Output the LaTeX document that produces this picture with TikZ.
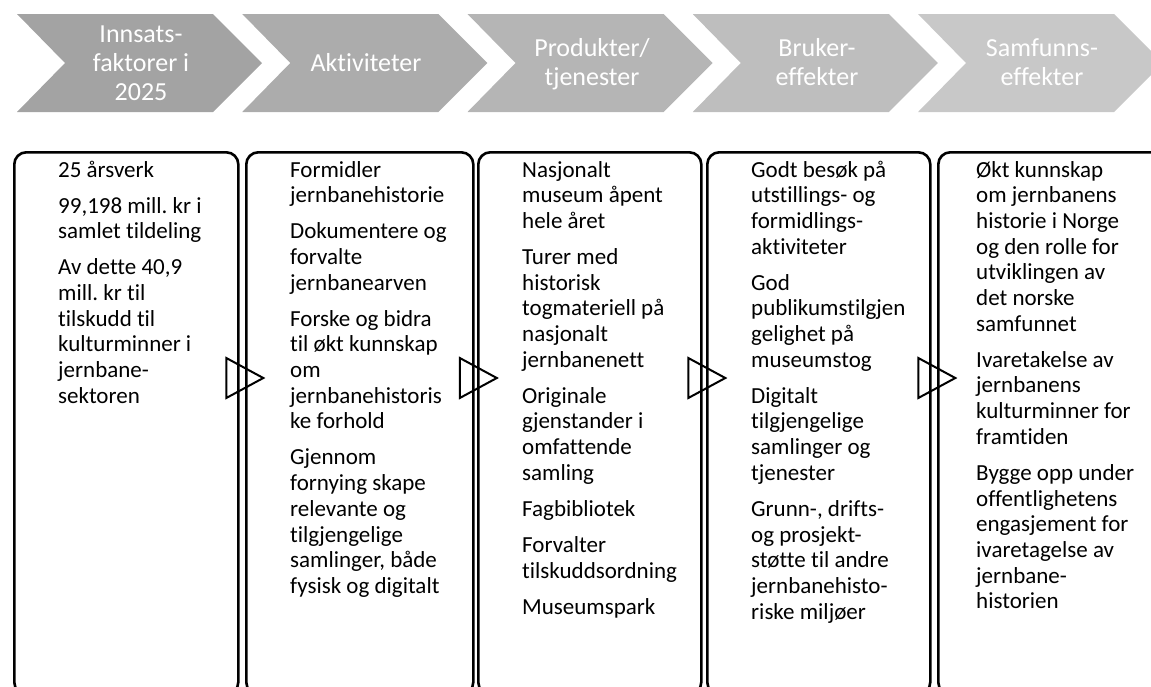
\documentclass[tikz,border=0pt]{standalone}
\usepackage{fontspec}
\setmainfont{Carlito}[Ligatures={NoCommon,NoContextual}]
\frenchspacing
\usetikzlibrary{calc}
\definecolor{chevA}{RGB}{163,163,163}
\definecolor{chevB}{RGB}{172,172,172}
\definecolor{chevC}{RGB}{181,181,181}
\definecolor{chevD}{RGB}{190,190,190}
\definecolor{chevE}{RGB}{200,200,200}
\newcommand\leftlines[1]{\vtop{\baselineskip=25.7pt\lineskiplimit=-100pt\lineskip=0pt\halign{##\hfil\cr #1\crcr}}}
\newcommand\midlines[1]{\vtop{\baselineskip=29pt\lineskiplimit=-100pt\lineskip=0pt\halign{\hfil##\hfil\cr #1\crcr}}}
\newcommand\pgap{\noalign{\vskip10.3pt}}
\begin{document}
\begin{tikzpicture}[x=1pt,y=-1pt,
  chev/.style={fill=#1,draw=none},
  htext/.style={text=white,inner sep=0pt,anchor=base,font=\fontsize{26}{29}\selectfont},
  colbox/.style={draw=black,line width=2.6pt,rounded corners=12pt,inner sep=0pt,anchor=north west,minimum height=542pt},
  btext/.style={inner sep=0pt,anchor=base west,font=\fontsize{23}{25.7}\selectfont},
  tri/.style={draw=black,line width=2pt,line join=miter}]
\useasboundingbox (0,0) rectangle (1151,686);
\clip (0,0) rectangle (1151,686);

% header chevrons
\foreach \L/\c in {17/chevA,242.25/chevB,467.5/chevC,692.75/chevD,918/chevE}{
  \fill[chev=\c] (\L,14) -- ++(196,0) -- ++(49,49) -- ++(-49,49) -- ++(-196,0) -- ++(48,-49) -- cycle;
}
\node[htext] (h1) at (141,42) {\midlines{Innsats-\cr faktorer i\cr 2025}};
\node[htext] (h2) at (366,71) {\midlines{Aktiviteter}};
\node[htext] (h3) at (592,56) {\midlines{Produkter/\cr tjenester}};
\node[htext] (h4) at (817,56) {\midlines{Bruker-\cr effekter}};
\node[htext] (h5) at (1042,56) {\midlines{Samfunns-\cr effekter}};

% column boxes
\node[colbox,minimum width=224pt] (b1) at (13,151) {};
\node[colbox,minimum width=227pt] (b2) at (245,151) {};
\node[colbox,minimum width=223pt] (b3) at (477,151) {};
\node[colbox,minimum width=223pt] (b4) at (706,151) {};
\node[colbox,minimum width=240pt] (b5) at (937,151) {};

% connectors (triangles)
\foreach \a/\b in {b1/b2,b2/b3,b3/b4,b4/b5}{
  \coordinate (g) at ($(\a.north east)!0.5!(\b.north west)+(0,227)$);
  \draw[tri] ($(g)+(-16,-20)$) -- ($(g)+(21,0)$) -- ($(g)+(-16,20)$) -- cycle;
}

% box texts
\node[btext] (t1) at (58,177) {\leftlines{25 årsverk\cr\pgap
99,198 mill. kr i\cr samlet tildeling\cr\pgap
Av dette 40,9\cr mill. kr til\cr tilskudd til\cr kulturminner i\cr jernbane-\cr sektoren}};

\node[btext] (t2) at (290,177) {\leftlines{Formidler\cr jernbanehistorie\cr\pgap
Dokumentere og\cr forvalte\cr jernbanearven\cr\pgap
Forske og bidra\cr til økt kunnskap\cr om\cr jernbanehistoris\cr ke forhold\cr\pgap
Gjennom\cr fornying skape\cr relevante og\cr tilgjengelige\cr samlinger, både\cr fysisk og digitalt}};

\node[btext] (t3) at (522,177) {\leftlines{Nasjonalt\cr museum åpent\cr hele året\cr\pgap
Turer med\cr historisk\cr togmateriell på\cr nasjonalt\cr jernbanenett\cr\pgap
Originale\cr gjenstander i\cr omfattende\cr samling\cr\pgap
Fagbibliotek\cr\pgap
Forvalter\cr tilskuddsordning\cr\pgap
Museumspark}};

\node[btext] (t4) at (751,177) {\leftlines{Godt besøk på\cr utstillings- og\cr formidlings-\cr aktiviteter\cr\pgap
God\cr publikumstilgjen\cr gelighet på\cr museumstog\cr\pgap
Digitalt\cr tilgjengelige\cr samlinger og\cr tjenester\cr\pgap
Grunn-, drifts-\cr og prosjekt-\cr støtte til andre\cr jernbanehisto-\cr riske miljøer}};

\node[btext] (t5) at (976,177) {\leftlines{Økt kunnskap\cr om jernbanens\cr historie i Norge\cr og den rolle for\cr utviklingen av\cr det norske\cr samfunnet\cr\pgap
Ivaretakelse av\cr jernbanens\cr kulturminner for\cr framtiden\cr\pgap
Bygge opp under\cr offentlighetens\cr engasjement for\cr ivaretagelse av\cr jernbane-\cr historien}};
\end{tikzpicture}
\end{document}
